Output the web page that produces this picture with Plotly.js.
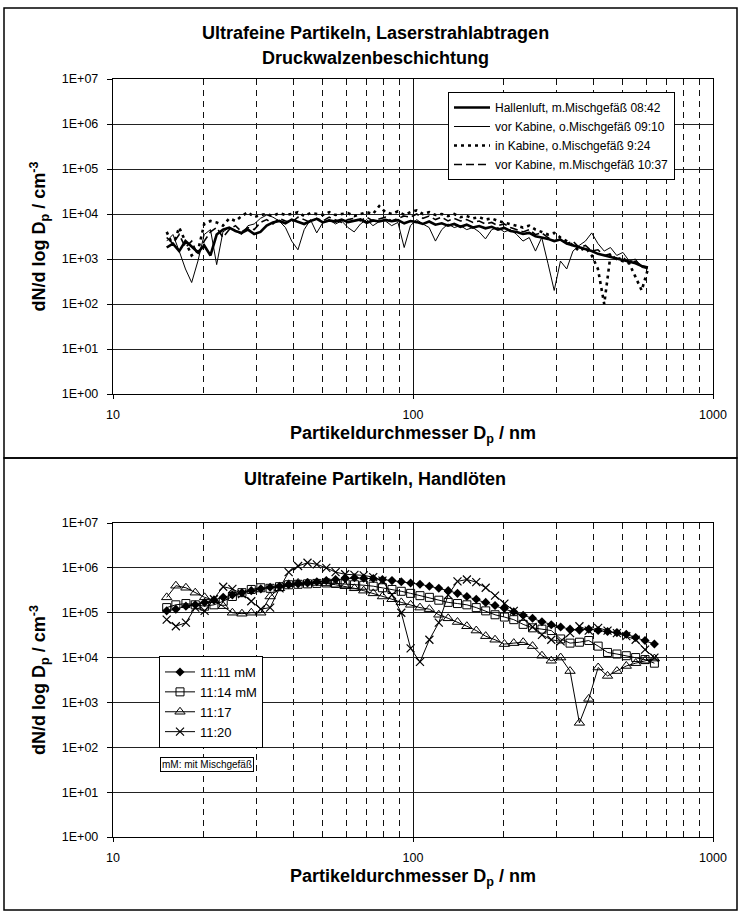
<!DOCTYPE html>
<html><head><meta charset="utf-8">
<script src="https://cdn.plot.ly/plotly-3.0.1.min.js"></script>
<style>html,body{margin:0;padding:0;background:#fff}</style>
</head><body><div id="chart" style="width:740px;height:911px"></div>
<script>
// ---------- DATA: top panel (Laserstrahlabtragen) ----------
const diamTop = [15.10,15.84,16.62,17.44,18.29,19.19,20.14,21.13,22.16,23.25,24.40,25.60,26.85,28.17,29.56,31.01,32.53,34.13,35.81,37.57,39.42,41.35,43.38,45.52,47.75,50.10,52.56,55.14,57.85,60.70,63.68,66.81,70.09,73.54,77.15,80.94,84.92,89.09,93.47,98.06,102.9,107.9,113.2,118.8,124.7,130.8,137.2,143.9,151.0,158.4,166.2,174.4,183.0,192.0,201.4,211.3,221.7,232.6,244.0,256.0,268.6,281.7,295.6,310.1,325.4,341.3,358.1,375.7,394.2,413.5,433.9,455.2,477.6,501.0,525.6,551.5,578.6,607.0];
const hallenluft = [1.8e3,2.2e3,1.5e3,2.5e3,1.9e3,1.4e3,2.0e3,1.2e3,3.5e3,4.5e3,5.0e3,4.2e3,3.8e3,4.5e3,3.6e3,4.0e3,5.5e3,6.5e3,7.0e3,6.2e3,7.5e3,6.8e3,6.0e3,7.0e3,7.8e3,6.5e3,7.2e3,6.8e3,7.5e3,6.6e3,7.0e3,7.6e3,6.4e3,7.2e3,6.8e3,7.4e3,6.9e3,7.3e3,6.2e3,7.0e3,6.6e3,6.0e3,6.8e3,5.8e3,6.2e3,5.5e3,6.0e3,5.2e3,5.8e3,5.0e3,5.4e3,4.8e3,5.2e3,4.5e3,4.9e3,4.2e3,4.0e3,3.6e3,3.8e3,3.2e3,3.0e3,2.8e3,2.5e3,2.7e3,2.2e3,2.0e3,1.8e3,1.6e3,1.5e3,1.3e3,1.2e3,1.1e3,1.0e3,9.5e2,8.5e2,8.0e2,7.0e2,6.5e2];
const vorKabineO = [2.5e3,3.5e3,1.5e3,6.0e2,3.0e2,9.0e2,3.5e3,4.5e3,7.5e2,4.0e3,5.0e3,4.2e3,3.5e3,5.5e3,6.0e3,8.0e3,9.5e3,8.5e3,7.0e3,5.0e3,2.5e3,1.6e3,4.5e3,7.5e3,3.8e3,6.5e3,7.5e3,6.0e3,7.0e3,5.0e3,4.0e3,6.0e3,7.5e3,5.5e3,6.8e3,7.0e3,5.5e3,6.5e3,1.8e3,5.5e3,7.5e3,6.0e3,5.0e3,2.5e3,4.5e3,6.0e3,5.0e3,5.5e3,4.5e3,5.0e3,4.0e3,2.8e3,4.5e3,5.0e3,4.0e3,4.5e3,3.5e3,2.5e3,3.0e3,1.5e3,3.0e3,8.0e2,2.0e2,9.0e2,6.0e2,1.5e3,2.0e3,2.5e3,3.8e3,2.2e3,1.5e3,1.8e3,1.2e3,1.4e3,9.0e2,1.0e3,6.5e2,6.0e2];
const inKabineO = [4.0e3,2.0e3,5.0e3,2.5e3,1.2e3,1.5e3,6.0e3,7.0e3,6.5e3,5.5e3,8.0e3,7.0e3,9.0e3,1.1e4,8.5e3,9.5e3,1.0e4,9.0e3,1.05e4,9.5e3,1.0e4,1.1e4,9.0e3,1.05e4,1.0e4,9.5e3,1.1e4,9.5e3,1.0e4,1.05e4,9.0e3,1.0e4,1.1e4,1.0e4,1.5e4,1.1e4,1.0e4,1.15e4,9.5e3,1.1e4,1.2e4,1.0e4,1.1e4,9.5e3,1.0e4,9.0e3,1.0e4,8.5e3,9.0e3,8.0e3,8.5e3,7.5e3,8.0e3,7.0e3,6.5e3,6.0e3,5.5e3,5.0e3,5.5e3,4.5e3,4.0e3,3.5e3,3.8e3,3.0e3,2.5e3,2.0e3,1.5e3,1.8e3,1.2e3,6.0e2,1.0e2,1.2e3,1.0e3,9.0e2,8.0e2,4.0e2,2.0e2,6.0e2];
const vorKabineM = [3.0e3,2.2e3,3.5e3,1.8e3,2.5e3,1.2e3,2.5e3,4.0e3,5.0e3,3.0e3,4.5e3,5.5e3,4.0e3,5.0e3,4.5e3,6.5e3,7.5e3,6.0e3,8.0e3,7.0e3,6.5e3,8.5e3,7.5e3,6.5e3,8.0e3,7.0e3,8.5e3,7.5e3,6.5e3,7.5e3,8.0e3,7.0e3,8.5e3,7.0e3,7.8e3,8.5e3,7.0e3,8.0e3,9.0e3,8.5e3,1.0e4,8.0e3,9.0e3,7.5e3,8.5e3,7.0e3,8.0e3,7.0e3,7.5e3,6.5e3,7.0e3,6.0e3,6.5e3,5.5e3,6.0e3,5.0e3,4.5e3,4.0e3,4.5e3,3.5e3,3.8e3,3.0e3,2.5e3,2.8e3,2.2e3,2.5e3,1.8e3,2.0e3,1.5e3,1.6e3,1.2e3,1.3e3,1.0e3,1.1e3,8.0e2,9.0e2,7.0e2,6.5e2];
const namesTop = ['Hallenluft, m.Mischgefäß 08:42','vor Kabine, o.Mischgefäß 09:10','in Kabine, o.Mischgefäß 9:24','vor Kabine, m.Mischgefäß 10:37'];

// ---------- DATA: bottom panel (Handlöten) ----------
const diamBot = [15.1,16.2,17.5,18.8,20.2,21.7,23.3,25.0,26.9,28.9,31.1,33.4,35.9,38.5,41.4,44.5,47.8,51.4,55.2,59.4,63.8,68.5,73.7,79.1,85.1,91.4,98.2,105.5,113.4,121.9,131.0,140.7,151.2,162.5,174.7,187.7,201.7,216.7,232.9,250.3,269.0,289.0,310.6,333.8,358.7,385.4,414.2,445.1,478.3,514.0,552.3,593.5,637.8];
const s1111 = [1.1e5,1.2e5,1.4e5,1.5e5,1.7e5,1.9e5,2.2e5,2.5e5,2.8e5,3.1e5,3.4e5,3.7e5,3.9e5,4.2e5,4.4e5,4.6e5,4.9e5,5.2e5,5.5e5,5.8e5,6.0e5,5.9e5,5.8e5,5.5e5,5.2e5,4.9e5,4.6e5,4.3e5,3.9e5,3.5e5,3.1e5,2.7e5,2.3e5,2.0e5,1.7e5,1.45e5,1.25e5,1.05e5,8.8e4,7.5e4,6.3e4,5.4e4,4.8e4,4.3e4,4.1e4,4.3e4,4.0e4,3.8e4,3.6e4,3.3e4,2.8e4,2.4e4,2.0e4];
const s1114 = [1.3e5,1.5e5,1.6e5,1.5e5,1.4e5,1.5e5,1.8e5,2.3e5,2.8e5,3.3e5,3.6e5,3.5e5,3.8e5,4.2e5,4.3e5,4.4e5,4.5e5,4.6e5,4.5e5,4.4e5,4.2e5,4.1e5,3.9e5,3.6e5,3.3e5,3.0e5,2.7e5,2.4e5,2.2e5,1.9e5,1.7e5,1.6e5,1.5e5,1.3e5,1.1e5,9.0e4,8.0e4,7.0e4,5.5e4,4.6e4,4.3e4,4.0e4,2.6e4,2.1e4,2.2e4,2.4e4,1.8e4,1.3e4,1.2e4,1.1e4,1.0e4,9.0e3,7.5e3];
const s1117 = [2.2e5,4.0e5,3.6e5,2.8e5,2.2e5,1.9e5,1.4e5,1.0e5,9.5e4,1.0e5,1.0e5,2.3e5,3.5e5,4.3e5,4.6e5,4.7e5,4.6e5,4.5e5,4.2e5,3.9e5,3.5e5,3.1e5,2.7e5,2.3e5,2.0e5,1.7e5,1.5e5,1.3e5,1.2e5,9.0e4,7.5e4,6.2e4,5.0e4,4.0e4,3.0e4,2.5e4,2.0e4,2.1e4,2.2e4,1.8e4,1.1e4,8.5e3,1.0e4,5.0e3,3.5e2,1.2e3,6.0e3,3.9e3,5.0e3,6.5e3,7.5e3,8.5e3,9.5e3];
const s1120 = [7.0e4,5.0e4,6.0e4,1.3e5,1.1e5,2.0e5,3.8e5,3.4e5,2.6e5,1.8e5,1.2e5,1.3e5,3.5e5,8.0e5,1.1e6,1.3e6,1.2e6,1.0e6,8.0e5,7.2e5,7.0e5,6.8e5,6.2e5,5.2e5,2.5e5,1.0e5,1.6e4,8.0e3,2.5e4,6.0e4,2.5e5,5.0e5,5.5e5,4.8e5,3.6e5,2.4e5,1.6e5,1.1e5,7.5e4,4.8e4,3.2e4,2.5e4,2.3e4,3.5e4,5.0e4,4.0e4,4.6e4,4.0e4,3.5e4,3.0e4,2.5e4,1.5e4,1.0e4];
const namesBot = ['11:11 mM','11:14 mM','11:17','11:20'];

// ---------- axis labels ----------
const yTickVals = [1,10,100,1e3,1e4,1e5,1e6,1e7];
const yTickText = ['1E+00','1E+01','1E+02','1E+03','1E+04','1E+05','1E+06','1E+07'];
const xTickVals = [10,100,1000];
const xTickText = ['10','100','1000'];
const xMinor = [20,30,40,50,60,70,80,90,200,300,400,500,600,700,800,900];

// ---------- layout helpers ----------
const W = 740, H = 911;
const FONT = '"Liberation Sans", Arial, sans-serif';
const fx = p => p / W;
const fy = p => 1 - p / H;

function xAxis(dom, anchor){
  return {
    type:'log', range:[1,3], domain:dom, anchor:anchor,
    tickmode:'array', tickvals:xTickVals, ticktext:xTickText,
    ticks:'outside', ticklen:4, tickcolor:'#000', ticklabelstandoff:5,
    showgrid:true, gridcolor:'#111', gridwidth:1,
    minor:{tickmode:'array', tickvals:xMinor, showgrid:true, gridcolor:'#111', gridwidth:1, griddash:'6px,5px', ticks:''},
    showline:true, linecolor:'#000', linewidth:1.2, mirror:true,
    zeroline:false, automargin:false,
    tickfont:{family:FONT, size:12.5, color:'#000'},
    title:{text:'<b>Partikeldurchmesser D<sub>p</sub> / nm</b>', font:{family:FONT, size:18, color:'#000'}, standoff:5}
  };
}
function yAxis(dom, anchor){
  return {
    type:'log', range:[0,7], domain:dom, anchor:anchor,
    tickmode:'array', tickvals:yTickVals, ticktext:yTickText,
    ticks:'outside', ticklen:5, tickcolor:'#000', ticklabelstandoff:6,
    showgrid:true, gridcolor:'#222', gridwidth:1,
    showline:true, linecolor:'#000', linewidth:1.2, mirror:true,
    zeroline:false, automargin:false,
    tickfont:{family:FONT, size:12.5, color:'#000'},
    title:{text:'<b>dN/d log D<sub>p</sub> / cm<sup>-3</sup></b>', font:{family:FONT, size:18, color:'#000'}, standoff:11}
  };
}

const traces = [
  {x:diamTop, y:hallenluft, name:namesTop[0], mode:'lines', line:{color:'#000', width:2.6}, xaxis:'x', yaxis:'y', legend:'legend'},
  {x:diamTop, y:vorKabineO, name:namesTop[1], mode:'lines', line:{color:'#000', width:1}, xaxis:'x', yaxis:'y', legend:'legend'},
  {x:diamTop, y:inKabineO, name:namesTop[2], mode:'lines', line:{color:'#000', width:2.6, dash:'3px,4px'}, xaxis:'x', yaxis:'y', legend:'legend'},
  {x:diamTop, y:vorKabineM, name:namesTop[3], mode:'lines', line:{color:'#000', width:1.6, dash:'8px,4px'}, xaxis:'x', yaxis:'y', legend:'legend'},
  {x:diamBot, y:s1111, name:namesBot[0], mode:'lines+markers', line:{color:'#000', width:1}, marker:{symbol:'diamond', size:7, color:'#000'}, xaxis:'x2', yaxis:'y2', legend:'legend2'},
  {x:diamBot, y:s1114, name:namesBot[1], mode:'lines+markers', line:{color:'#000', width:1}, marker:{symbol:'square-open', size:8, color:'#000', line:{width:1}}, xaxis:'x2', yaxis:'y2', legend:'legend2'},
  {x:diamBot, y:s1117, name:namesBot[2], mode:'lines+markers', line:{color:'#000', width:1}, marker:{symbol:'triangle-up-open', size:9, color:'#000', line:{width:1}}, xaxis:'x2', yaxis:'y2', legend:'legend2'},
  {x:diamBot, y:s1120, name:namesBot[3], mode:'lines+markers', line:{color:'#000', width:1}, marker:{symbol:'x-thin-open', size:8, color:'#000', line:{width:1.2}}, xaxis:'x2', yaxis:'y2', legend:'legend2'}
];

const layout = {
  width:W, height:H, margin:{l:0,r:0,t:0,b:0},
  paper_bgcolor:'#fff', plot_bgcolor:'#fff',
  font:{family:FONT, color:'#000'},
  xaxis: xAxis([fx(113), fx(713)], 'y'),
  yaxis: yAxis([fy(394), fy(79)], 'x'),
  xaxis2: xAxis([fx(113), fx(713)], 'y2'),
  yaxis2: yAxis([fy(837), fy(523)], 'x2'),
  legend:{x:fx(448), y:fy(92), xanchor:'left', yanchor:'top', bgcolor:'#fff', bordercolor:'#000', borderwidth:1,
          font:{family:FONT, size:12, color:'#000'}, tracegroupgap:0, itemwidth:36},
  legend2:{x:fx(159), y:fy(656), xanchor:'left', yanchor:'top', bgcolor:'#fff', bordercolor:'#000', borderwidth:1,
          font:{family:FONT, size:13, color:'#000'}, tracegroupgap:0},
  showlegend:true,
  annotations:[
    {text:'<b>Ultrafeine Partikeln, Laserstrahlabtragen</b>', xref:'paper', yref:'paper', x:fx(375), y:fy(33), yanchor:'middle', showarrow:false, font:{family:FONT, size:18, color:'#000'}},
    {text:'<b>Druckwalzenbeschichtung</b>', xref:'paper', yref:'paper', x:fx(375), y:fy(58), yanchor:'middle', showarrow:false, font:{family:FONT, size:18, color:'#000'}},
    {text:'<b>Ultrafeine Partikeln, Handlöten</b>', xref:'paper', yref:'paper', x:fx(375), y:fy(479), yanchor:'middle', showarrow:false, font:{family:FONT, size:18, color:'#000'}},
    {text:'mM: mit Mischgefäß', xref:'paper', yref:'paper', x:fx(160), y:fy(757), xanchor:'left', yanchor:'top', showarrow:false,
     font:{family:FONT, size:10, color:'#000'}, bordercolor:'#000', borderwidth:1, borderpad:1, bgcolor:'#fff'}
  ],
  shapes:[
    {type:'rect', xref:'paper', yref:'paper', x0:fx(4), x1:fx(737), y0:fy(458), y1:fy(8), line:{color:'#000', width:1.5}},
    {type:'rect', xref:'paper', yref:'paper', x0:fx(4), x1:fx(737), y0:fy(910), y1:fy(458), line:{color:'#000', width:1.5}}
  ]
};

Plotly.newPlot('chart', traces, layout, {staticPlot:true, displayModeBar:false});
</script></body></html>
